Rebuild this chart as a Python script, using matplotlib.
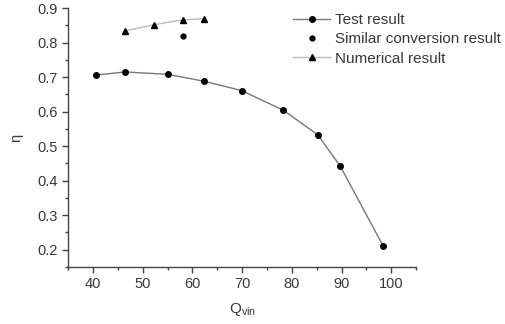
import matplotlib
matplotlib.use("Agg")
import matplotlib.pyplot as plt
from matplotlib.ticker import MultipleLocator

plt.rcParams['font.family'] = ['Liberation Sans', 'DejaVu Sans']
plt.rcParams['mathtext.fontset'] = 'custom'
plt.rcParams['mathtext.rm'] = 'Liberation Sans'

test_q = [40.5, 46.5, 55.0, 62.4, 69.9, 78.3, 85.2, 89.7, 98.4]
test_eta = [0.706, 0.715, 0.708, 0.688, 0.661, 0.604, 0.533, 0.443, 0.210]
sim_q = [58.1]
sim_eta = [0.819]
num_q = [46.5, 52.3, 58.1, 62.4]
num_eta = [0.834, 0.852, 0.866, 0.869]

txt = '#383838'
fig = plt.figure(figsize=(5.05, 3.24), dpi=100)
ax = fig.add_axes([0.135, 0.176, 0.689, 0.799])

ax.plot(test_q, test_eta, '-', color='#777777', lw=1.0, marker='o', ms=4,
        mfc='black', mec='black', label='Test result')
ax.plot(sim_q, sim_eta, 'o', color='black', ms=3.5, ls='none', label='Similar conversion result')
ax.plot(num_q, num_eta, '-', color='#bbbbbb', lw=1.0, marker='^', ms=4,
        mfc='black', mec='black', label='Numerical result')

ax.set_xlim(35, 105)
ax.set_ylim(0.15, 0.9)
ax.xaxis.set_major_locator(MultipleLocator(10))
ax.xaxis.set_minor_locator(MultipleLocator(5))
ax.yaxis.set_major_locator(MultipleLocator(0.1))
ax.yaxis.set_minor_locator(MultipleLocator(0.05))
ax.set_xticks(range(40, 101, 10))
ax.set_yticks([0.2, 0.3, 0.4, 0.5, 0.6, 0.7, 0.8, 0.9])
ax.set_xticklabels([str(v) for v in range(40, 101, 10)])
ax.set_yticklabels(['0.2', '0.3', '0.4', '0.5', '0.6', '0.7', '0.8', '0.9'])

for s in ['top', 'right']:
    ax.spines[s].set_visible(False)
for s in ['left', 'bottom']:
    ax.spines[s].set_color('#444444')
    ax.spines[s].set_linewidth(1.0)
ax.tick_params(which='major', direction='out', length=4, width=1, color='#444444',
               labelsize=10.5, labelcolor=txt)
ax.tick_params(which='minor', direction='out', length=2, width=1, color='#444444')

ax.set_xlabel(r'Q$_{\rm vin}$', fontsize=11, color=txt, labelpad=7)
ax.set_ylabel('η', fontsize=10.5, color=txt, labelpad=10)

leg = ax.legend(loc='upper left', bbox_to_anchor=(0.63, 1.005), frameon=False,
                fontsize=11, handlelength=2.4, handletextpad=0.3, labelspacing=0.35,
                borderaxespad=0)
for t in leg.get_texts():
    t.set_color(txt)

fig.savefig('out.png', dpi=100)
